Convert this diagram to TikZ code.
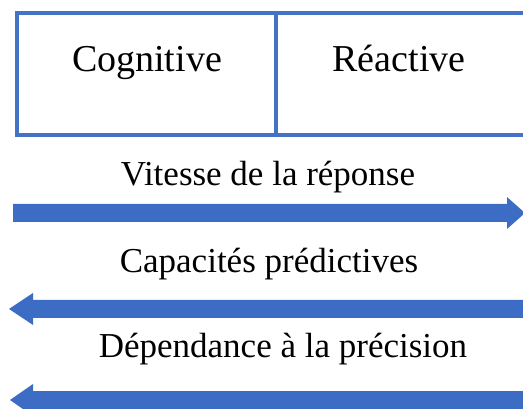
\documentclass[tikz,border=0pt]{standalone}
\usepackage{fontspec}
\setmainfont{Liberation Serif}
\definecolor{bleu}{RGB}{68,114,196}
\definecolor{bleuF}{RGB}{60,108,196}
\begin{document}
\begin{tikzpicture}[x=1pt, y=-1pt,
    cadre/.style={draw=bleu, line width=4pt},
    titre/.style={anchor=base, inner sep=0pt, font=\fontsize{38}{44}\selectfont},
    legende/.style={anchor=base, inner sep=0pt, font=\fontsize{35}{40}\selectfont},
    fleche/.style={fill=bleuF, draw=none}]
    % 1. Zone visible
    \useasboundingbox (0,0) rectangle (523,409);
    \clip (0,0) rectangle (523,409);

    % 2. Les deux cases
    \draw[cadre] (17,13) rectangle (527,135);
    \draw[cadre] (275.5,13) -- (275.5,135);
    \node[titre] (cog) at (147,72) {Cognitive};
    \node[titre] (rea) at (399,72) {Réactive};

    % 3. Vitesse de la réponse (vers la droite)
    \node[legende] (vit) at (268,186) {Vitesse de la réponse};
    \fill[fleche] (13,204) -- (507,204) -- (507,197) -- (525,213)
        -- (507,229) -- (507,222) -- (13,222) -- cycle;

    % 4. Capacités prédictives (vers la gauche)
    \node[legende] (cap) at (269,273) {Capacités prédictives};
    \fill[fleche] (530,300) -- (33,300) -- (33,293) -- (9,309)
        -- (33,325) -- (33,318) -- (530,318) -- cycle;

    % 5. Dépendance à la précision (vers la gauche)
    \node[legende] (dep) at (283,358) {Dépendance à la précision};
    \fill[fleche] (530,391) -- (33,391) -- (33,384) -- (10,400)
        -- (33,416) -- (33,409) -- (530,409) -- cycle;
\end{tikzpicture}
\end{document}
